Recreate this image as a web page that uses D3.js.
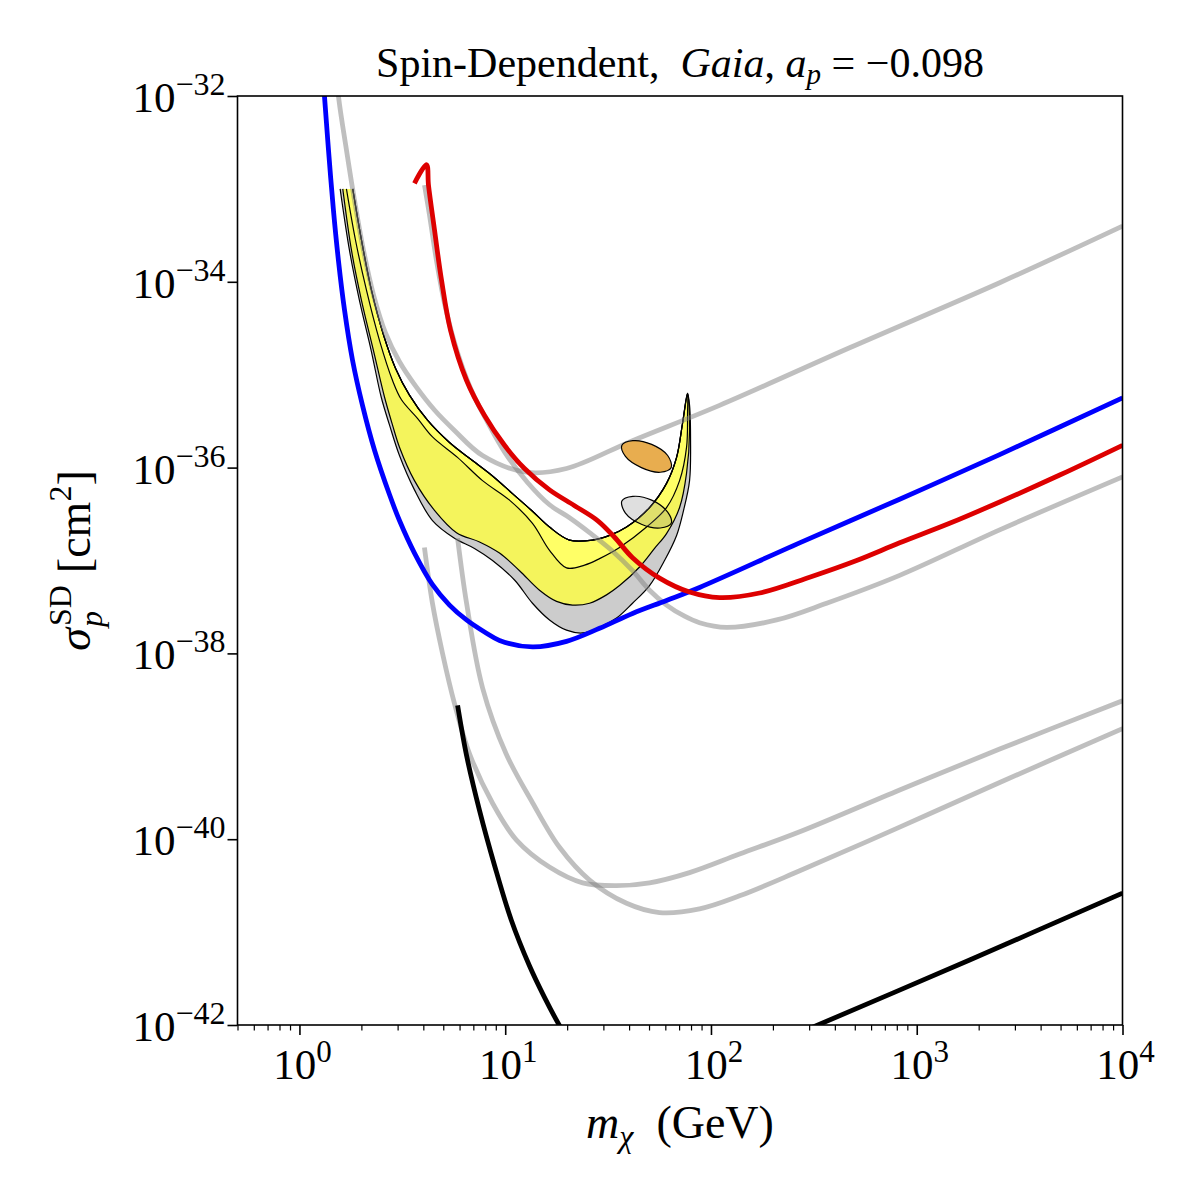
<!DOCTYPE html>
<html>
<head>
<meta charset="utf-8">
<script src="https://cdn.jsdelivr.net/npm/d3@7"></script>
<style>
  html, body { margin: 0; padding: 0; background: #fff; }
  svg text { font-family: "Liberation Serif", "DejaVu Serif", serif; fill: #000; white-space: pre; }
</style>
</head>
<body>
<svg id="chart" width="1200" height="1200"></svg>
<script>
// ---- Data: every point is [mass in GeV, log10(sigma / cm^2)]
const blueLimit = [
  [1.279, -31.61], [1.323, -32.00], [1.384, -32.58], [1.463, -33.23], [1.547, -33.77],
  [1.655, -34.30], [1.810, -34.84], [2.025, -35.33], [2.315, -35.81], [2.739, -36.29],
  [3.063, -36.57], [3.623, -36.92], [4.433, -37.26], [5.361, -37.48], [6.484, -37.64],
  [7.935, -37.77], [9.383, -37.86], [13.57, -37.93], [19.86, -37.87], [28.74, -37.73],
  [41.58, -37.57], [60.82, -37.43], [88.0, -37.29], [269.6, -36.81], [826, -36.34],
  [2530, -35.86], [10000, -35.25]
];

const redLimit = [
  [3.623, -32.94], [4.144, -32.74], [4.238, -32.96], [4.532, -33.44], [4.901, -33.98],
  [5.422, -34.52], [6.484, -35.06], [7.935, -35.44], [9.922, -35.76], [12.41, -36.01],
  [16.42, -36.24], [21.73, -36.41], [28.10, -36.57], [34.00, -36.75], [41.58, -36.97],
  [56.25, -37.19], [78.70, -37.34], [110.1, -37.40], [172.3, -37.35], [301.5, -37.18],
  [510.4, -37.00], [826, -36.81], [1445, -36.60], [2530, -36.37], [4955, -36.08],
  [10000, -35.76]
];

// grey comparison limits
const greyUpper = [
  [1.480, -31.50], [1.547, -32.00], [1.692, -32.58], [1.851, -33.12], [2.047, -33.66],
  [2.290, -34.14], [2.619, -34.55], [3.063, -34.86], [3.664, -35.12], [4.532, -35.38],
  [5.668, -35.60], [7.758, -35.87], [12.69, -36.05], [19.86, -36.01], [41.58, -35.71],
  [110.1, -35.33], [471.9, -34.71], [2530, -34.01], [10000, -33.40]
];

const greyShadow = [
  [4.053, -32.96], [4.285, -33.28], [4.634, -33.77], [5.127, -34.28], [5.863, -34.76],
  [6.858, -35.17], [8.204, -35.51], [9.922, -35.83], [12.84, -36.16], [16.42, -36.40],
  [20.54, -36.54], [25.70, -36.70], [32.87, -36.89], [41.58, -37.11], [50.29, -37.32],
  [60.82, -37.48], [74.41, -37.60], [88.0, -37.67], [119.1, -37.72], [208.4, -37.64],
  [364.8, -37.46], [826, -37.16], [2530, -36.67], [10000, -36.10]
];

const greyLowA = [
  [4.05, -36.86], [4.43, -37.46], [4.96, -38.00], [5.67, -38.54], [6.71, -39.08],
  [8.67, -39.61], [11.35, -40.01], [16.4, -40.30], [23.8, -40.47], [34.8, -40.50],
  [50.29, -40.47], [78.70, -40.36], [137.7, -40.16], [270, -39.92], [826, -39.47],
  [2530, -39.03], [10000, -38.51]
];

const greyLowB = [
  [5.87, -36.76], [6.49, -37.46], [7.76, -38.37], [10.1, -39.08], [13.6, -39.61],
  [18.4, -40.09], [25.7, -40.44], [38.9, -40.69], [56.2, -40.79], [88.0, -40.75],
  [137.7, -40.61], [270, -40.34], [826, -39.87], [2530, -39.39], [10000, -38.81]
];

// black projections
const blackSteep = [
  [5.87, -38.56], [6.49, -39.10], [7.50, -39.69], [8.87, -40.28], [10.7, -40.87],
  [13.1, -41.36], [15.5, -41.70], [18.4, -42.01], [21.7, -42.27]
];

const blackLine = [[241, -42.13], [1808, -41.30], [10000, -40.58]];

// preferred band, edges run from the cut at 1e-33 down to the tip
const bandTop = [
  [1.816, -33.00], [2.002, -33.55], [2.239, -34.09], [2.561, -34.57], [2.929, -34.93],
  [3.425, -35.22], [4.191, -35.49], [5.361, -35.73], [6.707, -35.90], [8.677, -36.09],
  [10.85, -36.28], [13.57, -36.47], [16.42, -36.64], [20.54, -36.78], [26.57, -36.78],
  [32.14, -36.73], [38.88, -36.64], [50.29, -36.43], [60.82, -36.17], [68.06, -35.89],
  [72.78, -35.52], [76.95, -35.20]
];

const bandInner = [
  [1.692, -33.00], [1.872, -33.55], [2.117, -34.09], [2.449, -34.63], [2.832, -35.06],
  [3.133, -35.27], [3.747, -35.47], [4.433, -35.67], [5.863, -35.89], [7.758, -36.14],
  [10.49, -36.35], [13.57, -36.60], [16.42, -36.89], [19.86, -37.08], [24.30, -37.05],
  [28.74, -36.98], [35.95, -36.86], [48.64, -36.64], [60.82, -36.43], [70.38, -36.14],
  [76.10, -35.78], [76.95, -35.41]
];

const bandMiddle = [
  [1.624, -33.00], [1.790, -33.66], [2.002, -34.20], [2.290, -34.74], [2.590, -35.24],
  [2.832, -35.54], [3.063, -35.78], [3.623, -36.14], [4.532, -36.46], [5.798, -36.70],
  [7.503, -36.80], [9.383, -36.92], [11.74, -37.11], [14.68, -37.32], [17.76, -37.44],
  [21.24, -37.48], [25.70, -37.46], [31.08, -37.37], [35.95, -37.27], [44.98, -37.07],
  [53.19, -36.87], [60.82, -36.71], [70.38, -36.43], [76.10, -36.06], [78.70, -35.60]
];

const bandOuter = [
  [1.577, -33.00], [1.750, -33.66], [1.957, -34.20], [2.232, -34.74], [2.496, -35.24],
  [2.739, -35.54], [3.063, -35.87], [3.623, -36.24], [4.433, -36.57], [5.668, -36.76],
  [7.091, -36.87], [8.677, -37.00], [11.10, -37.21], [13.57, -37.46], [16.42, -37.64],
  [19.86, -37.75], [23.76, -37.78], [28.74, -37.72], [34.76, -37.62], [41.58, -37.46],
  [50.29, -37.27], [59.48, -37.00], [68.06, -36.73], [73.58, -36.46], [78.70, -36.14],
  [79.58, -35.71], [78.70, -35.33]
];

// two best-fit ellipses, outline points
const ellipseOrange = [
  [64.1, -36.00], [56.7, -36.05], [45.9, -36.00], [38.4, -35.88],
  [36.9, -35.76], [41.7, -35.71], [51.5, -35.75], [61.6, -35.87]
];
const ellipseGrey = [
  [64.1, -36.60], [56.7, -36.65], [45.9, -36.61], [38.4, -36.49],
  [36.9, -36.36], [41.7, -36.31], [51.5, -36.35], [61.6, -36.48]
];

// ticks
const xMajorExp = [0, 1, 2, 3, 4];
const yMajorExp = [-32, -34, -36, -38, -40, -42];

// ---- Layout
const svg = d3.select('#chart');
const pLeft = 237.5, pRight = 1122.5, pTop = 96, pBottom = 1025;
const lw = 4.8;

const x = d3.scaleLog().domain([0.5, 1e4]).range([pLeft, pRight]);
const y = d3.scaleLog().domain([1e-42, 1e-32]).range([pBottom, pTop]);

svg.append('defs').append('clipPath').attr('id', 'plotClip')
  .append('rect')
  .attr('x', pLeft).attr('y', pTop)
  .attr('width', pRight - pLeft).attr('height', pBottom - pTop);

const plot = svg.append('g').attr('clip-path', 'url(#plotClip)');

const line = d3.line()
  .x(d => x(d[0]))
  .y(d => y(Math.pow(10, d[1])))
  .curve(d3.curveCatmullRom.alpha(0.5));

const closedLine = d3.line()
  .x(d => x(d[0]))
  .y(d => y(Math.pow(10, d[1])))
  .curve(d3.curveCatmullRomClosed.alpha(0.5));

// ---- Band: fills first, then contour lines (no line along the flat top cut)
const regions = [
  { edge: bandOuter, fill: '#cccccc' },
  { edge: bandMiddle, fill: '#f4f45c' },
  { edge: bandInner, fill: '#ffff66' }
];
regions.forEach(r => {
  const pts = r.edge.concat(bandTop.slice().reverse());
  plot.append('path')
    .attr('d', line(pts) + 'Z')
    .attr('fill', r.fill)
    .attr('stroke', 'none');
});
regions.forEach(r => {
  const pts = r.edge.concat(bandTop.slice().reverse());
  plot.append('path')
    .attr('d', line(pts))
    .attr('fill', 'none')
    .attr('stroke', '#000')
    .attr('stroke-width', 1.2);
});

// ---- Grey limits (semi transparent)
[greyUpper, greyShadow, greyLowA, greyLowB].forEach(g => {
  plot.append('path')
    .datum(g)
    .attr('d', line)
    .attr('fill', 'none')
    .attr('stroke', '#808080')
    .attr('stroke-opacity', 0.5)
    .attr('stroke-width', lw);
});

// ---- Ellipses
plot.append('path')
  .datum(ellipseOrange)
  .attr('d', closedLine)
  .attr('fill', '#e8ad4f')
  .attr('stroke', '#000')
  .attr('stroke-width', 1.2);
plot.append('path')
  .datum(ellipseGrey)
  .attr('d', closedLine)
  .attr('fill', '#808080')
  .attr('fill-opacity', 0.25)
  .attr('stroke', '#000')
  .attr('stroke-width', 1.2);

// ---- Coloured limits
const coloured = [
  { d: blueLimit, c: '#0000ff' },
  { d: redLimit, c: '#dd0000' },
  { d: blackSteep, c: '#000000' },
  { d: blackLine, c: '#000000' }
];
coloured.forEach(s => {
  plot.append('path')
    .datum(s.d)
    .attr('d', line)
    .attr('fill', 'none')
    .attr('stroke', s.c)
    .attr('stroke-width', lw)
    .attr('stroke-linejoin', 'round');
});

// ---- Axes
const xMajor = xMajorExp.map(e => Math.pow(10, e));
const xMinor = [];
for (let k = -1; k <= 3; k++) {
  for (let j = 2; j <= 9; j++) {
    const v = j * Math.pow(10, k);
    if (v >= 0.5 && v <= 1e4) xMinor.push(v);
  }
}

const xAxisMajor = svg.append('g')
  .attr('transform', `translate(0,${pBottom})`)
  .call(d3.axisBottom(x).tickValues(xMajor).tickSize(10).tickFormat(''));
const xAxisMinor = svg.append('g')
  .attr('transform', `translate(0,${pBottom})`)
  .call(d3.axisBottom(x).tickValues(xMinor).tickSize(5.5).tickFormat(''));
const yAxisMajor = svg.append('g')
  .attr('transform', `translate(${pLeft},0)`)
  .call(d3.axisLeft(y).tickValues(yMajorExp.map(e => Math.pow(10, e))).tickSize(10).tickFormat(''));

[xAxisMajor, xAxisMinor, yAxisMajor].forEach(a => {
  a.select('.domain').remove();
  a.selectAll('line').attr('stroke', '#000').attr('stroke-width', 1.6);
});
xAxisMinor.selectAll('line').attr('stroke-width', 1.2);

// frame
svg.append('rect')
  .attr('x', pLeft).attr('y', pTop)
  .attr('width', pRight - pLeft).attr('height', pBottom - pTop)
  .attr('fill', 'none')
  .attr('stroke', '#000')
  .attr('stroke-width', 1.6);

// tick labels
xMajorExp.forEach(e => {
  const t = svg.append('text')
    .attr('x', x(Math.pow(10, e)) + 3)
    .attr('y', pBottom + 54)
    .attr('text-anchor', 'middle')
    .attr('font-size', 43);
  t.append('tspan').text('10');
  t.append('tspan').attr('dy', -17).attr('font-size', 31).text(e);
});

yMajorExp.forEach(e => {
  const t = svg.append('text')
    .attr('x', pLeft - 12)
    .attr('y', y(Math.pow(10, e)) + 16)
    .attr('text-anchor', 'end')
    .attr('font-size', 43);
  t.append('tspan').text('10');
  t.append('tspan').attr('dy', -17).attr('font-size', 32).text('\u2212' + Math.abs(e));
});

// title
const title = svg.append('text')
  .attr('x', (pLeft + pRight) / 2)
  .attr('y', 77)
  .attr('text-anchor', 'middle')
  .attr('font-size', 42);
title.append('tspan').text('Spin-Dependent,  ');
title.append('tspan').attr('font-style', 'italic').text('Gaia');
title.append('tspan').text(', ');
title.append('tspan').attr('font-style', 'italic').text('a');
title.append('tspan').attr('font-style', 'italic').attr('font-size', 29).attr('dy', 7).text('p');
title.append('tspan').attr('dy', -7).text(' = \u22120.098');

// x label
const xl = svg.append('text')
  .attr('x', (pLeft + pRight) / 2)
  .attr('y', 1138)
  .attr('text-anchor', 'middle')
  .attr('font-size', 46);
xl.append('tspan').attr('font-style', 'italic').text('m');
xl.append('tspan').attr('font-style', 'italic').attr('font-size', 32).attr('dy', 9).text('\u03c7');
xl.append('tspan').attr('dy', -9).text('  (GeV)');

// y label, built piece by piece then centred on the axis
const gy = svg.append('g');
const yl = gy.append('text').attr('font-size', 46);
const sig = yl.append('tspan').attr('x', 0).attr('font-style', 'italic').text('\u03c3');
const wSig = sig.node().getComputedTextLength();
const sd = yl.append('tspan').attr('x', wSig + 2).attr('dy', -19).attr('font-size', 32).text('SD');
const wSD = sd.node().getComputedTextLength();
yl.append('tspan').attr('x', wSig + 1).attr('dy', 31).attr('font-size', 32).attr('font-style', 'italic').text('p');
yl.append('tspan').attr('x', wSig + 2 + wSD + 12).attr('dy', -12).text('[cm');
yl.append('tspan').attr('dy', -19).attr('font-size', 32).text('2');
yl.append('tspan').attr('dy', 19).text(']');
const bb = yl.node().getBBox();
gy.attr('transform', `translate(90,${(pTop + pBottom) / 2}) rotate(-90) translate(${-bb.x - bb.width / 2},0)`);
</script>
</body>
</html>
